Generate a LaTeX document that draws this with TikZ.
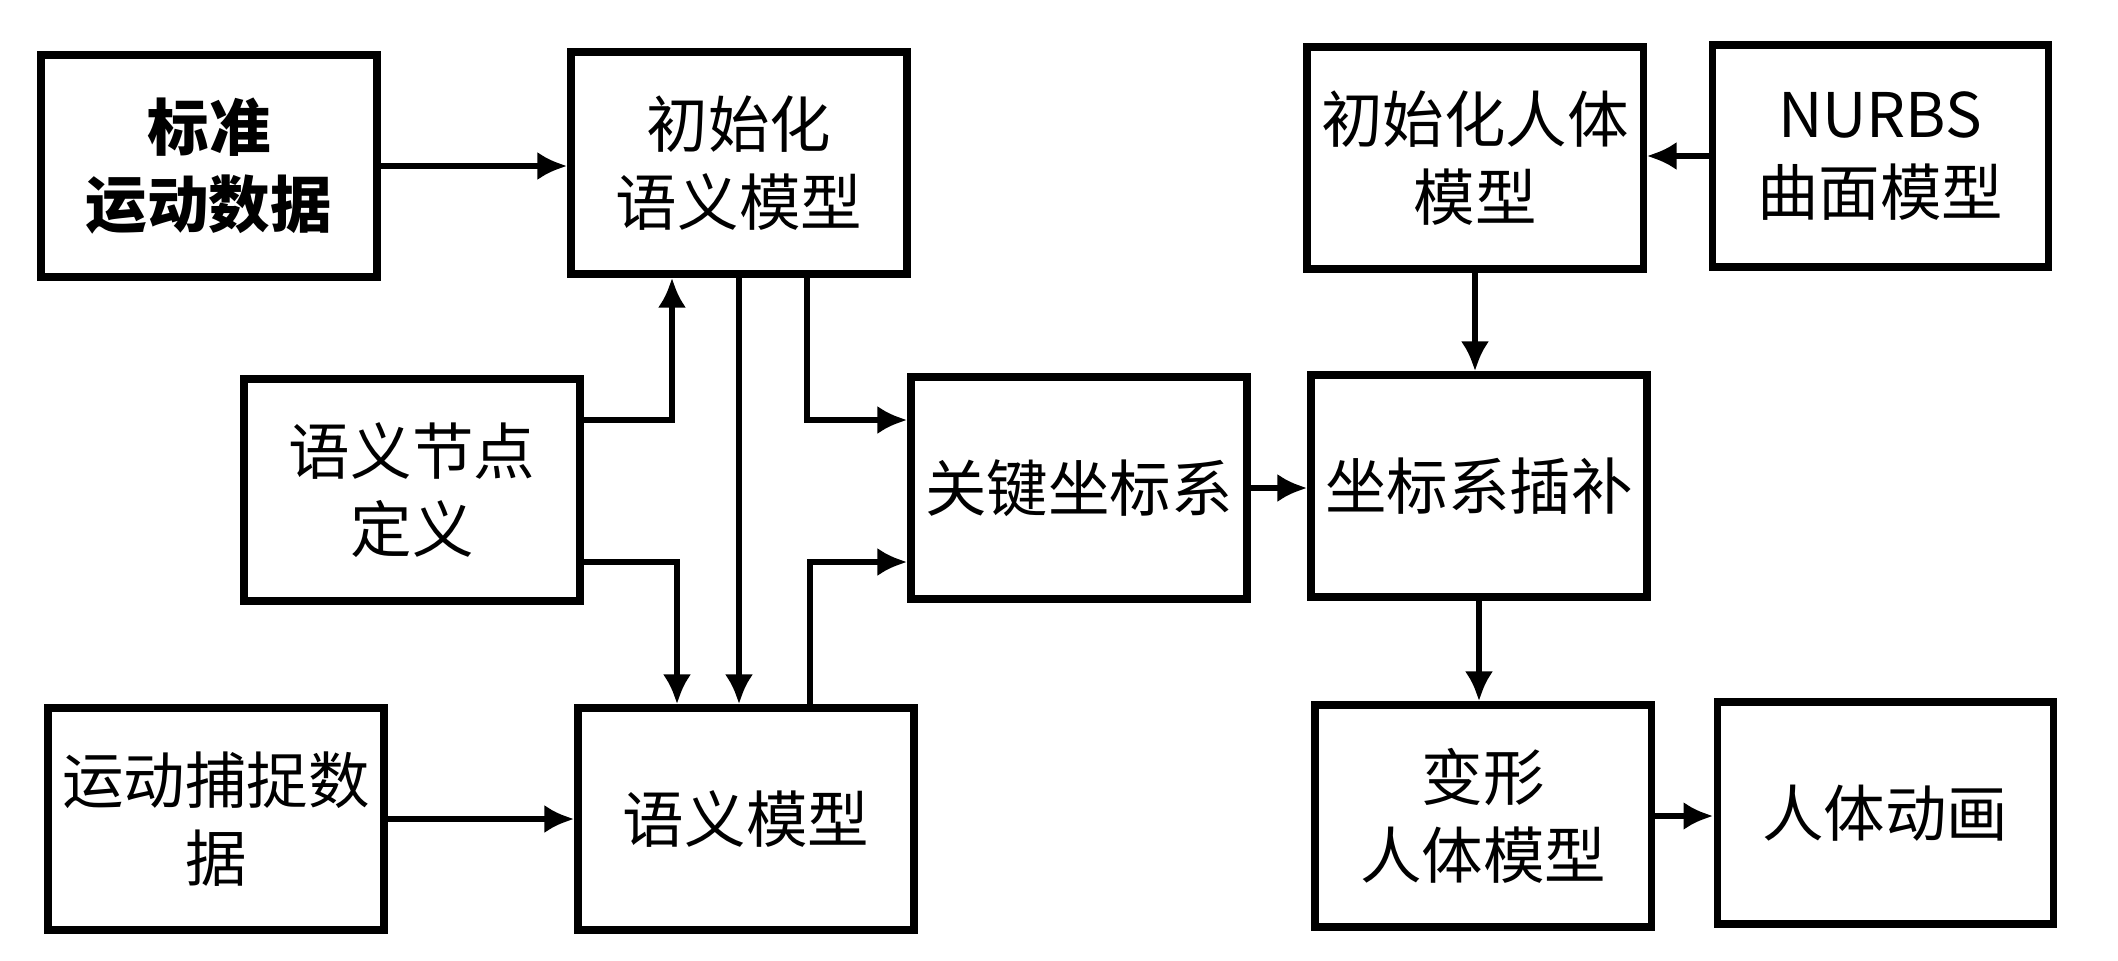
\documentclass[tikz,border=0pt]{standalone}
\usepackage{fontspec}
\setmainfont{Noto Sans CJK SC}
\usepackage{tikz}
\usetikzlibrary{shapes, arrows, arrows.meta, positioning}
\tikzstyle{bloque} = [draw=black, line width=2pt, rectangle, minimum width=3.36cm, minimum height=2.22cm, inner sep=0pt, align=center, font=\fontsize{17.5pt}{22pt}\selectfont]
\tikzstyle{flecha} = [line width=1.7pt, -{Latex[length=3mm,width=2.8mm]}]

\begin{document}
\begin{tikzpicture}
		\useasboundingbox (0,0) rectangle (21.18,9.6);
		\node [bloque] (estandar) at (2.09,7.94) {\bfseries 标准\\\bfseries 运动数据};
		\node [bloque] (iniSem) at (7.39,7.97) {初始化\\语义模型};
		\node [bloque] (defNodo) at (4.12,4.70) {语义节点\\定义};
		\node [bloque] (clave) at (10.79,4.72) {关键坐标系};
		\node [bloque] (captura) at (2.16,1.41) {运动捕捉数\\据};
		\node [bloque] (sem) at (7.46,1.41) {语义模型};
		\node [bloque] (iniHum) at (14.75,8.02) {初始化人体\\模型};
		\node [bloque] (nurbs) at (18.80,8.04) {NURBS\\曲面模型};
		\node [bloque] (interp) at (14.79,4.74) {坐标系插补};
		\node [bloque] (deform) at (14.83,1.44) {变形\\人体模型};
		\node [bloque] (anim) at (18.85,1.47) {人体动画};
		
		\draw [flecha] (estandar.east) -- (estandar.east -| iniSem.west);
		\draw [flecha] ([yshift=7mm]defNodo.east) -| ([xshift=-6.7mm]iniSem.south);
		\draw [flecha] (iniSem.south) -- (iniSem.south |- sem.north);
		\draw [flecha] ([xshift=6.8mm]iniSem.south) |- ([yshift=6.8mm]clave.west);
		\draw [flecha] ([yshift=-7.2mm]defNodo.east) -| ([xshift=-6.9mm]sem.north);
		\draw [flecha] ([xshift=6.4mm]sem.north) |- ([yshift=-7.4mm]clave.west);
		\draw [flecha] (captura.east) -- (captura.east -| sem.west);
		\draw [flecha] (clave.east) -- (clave.east -| interp.west);
		\draw [flecha] (nurbs.west) -- (nurbs.west -| iniHum.east);
		\draw [flecha] (iniHum.south) -- (iniHum.south |- interp.north);
		\draw [flecha] (interp.south) -- (interp.south |- deform.north);
		\draw [flecha] (deform.east) -- (deform.east -| anim.west);
	\end{tikzpicture}
\end{document}
